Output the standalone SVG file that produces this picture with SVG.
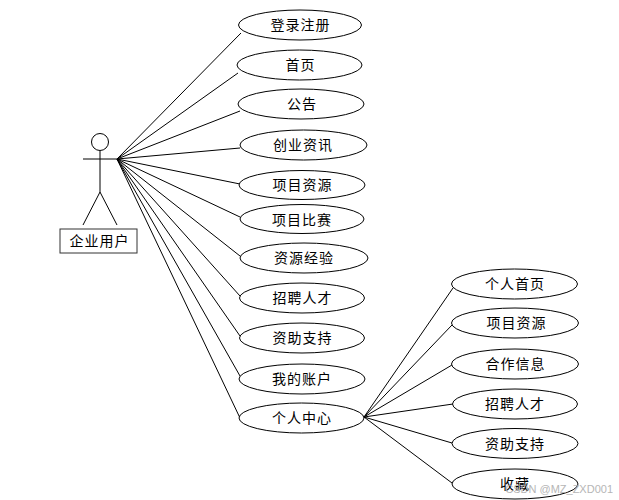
<svg xmlns="http://www.w3.org/2000/svg" width="619" height="500" viewBox="0 0 619 500">
<style>
.l{stroke:#000;stroke-width:1;fill:none}
.e{stroke:#000;stroke-width:1;fill:#fff}
.t{font-family:"Noto Sans CJK SC","Liberation Sans",sans-serif;font-size:14px;letter-spacing:1px;fill:#000;text-anchor:middle}
</style>
<rect width="619" height="500" fill="#fff"/>
<g id="connectors" class="l">
<path d="M117 159L241 33M117 159L238 73M117 159L240 111M117 159L240 148M117 159L240 184M117 159L240 217M117 159L240 256M117 159L240 296M117 159L240 336M117 159L240 376M117 159L240 418"/>
<path d="M364 417L453 288M364 417L452 325M364 417L452 365M364 417L453 404M364 417L452 443M364 417L452 483"/>
</g>
<g id="actor" class="l">
<circle cx="100" cy="142" r="8.5"/>
<path d="M83 159H117M100 151V192M100 192L83 225M100 192L117 225"/>
<rect x="60" y="229" width="77" height="24" fill="#fff" stroke="#333"/>
<text class="t" x="99.500" y="246" stroke="none">企业用户</text>
</g>
<g id="n1"><ellipse class="e" cx="300" cy="25" rx="61.500" ry="15"/><text class="t" x="300.500" y="30">登录注册</text></g>
<g id="n2"><ellipse class="e" cx="299.500" cy="65" rx="62.500" ry="15"/><text class="t" x="300.500" y="70">首页</text></g>
<g id="n3"><ellipse class="e" cx="301" cy="104" rx="63" ry="15"/><text class="t" x="302" y="109">公告</text></g>
<g id="n4"><ellipse class="e" cx="303.500" cy="145" rx="63.500" ry="15"/><text class="t" x="303" y="150">创业资讯</text></g>
<g id="n5"><ellipse class="e" cx="302" cy="185" rx="63" ry="14.500"/><text class="t" x="302.500" y="190">项目资源</text></g>
<g id="n6"><ellipse class="e" cx="302" cy="219" rx="62" ry="14.500"/><text class="t" x="302" y="225">项目比赛</text></g>
<g id="n7"><ellipse class="e" cx="304" cy="258" rx="64" ry="15"/><text class="t" x="304" y="263">资源经验</text></g>
<g id="n8"><ellipse class="e" cx="302" cy="298" rx="62.500" ry="15"/><text class="t" x="302.500" y="303">招聘人才</text></g>
<g id="n9"><ellipse class="e" cx="302" cy="338" rx="62.500" ry="15"/><text class="t" x="302.500" y="343">资助支持</text></g>
<g id="n10"><ellipse class="e" cx="302" cy="379" rx="63" ry="15"/><text class="t" x="302" y="384">我的账户</text></g>
<g id="n11"><ellipse class="e" cx="301.500" cy="418" rx="62.500" ry="15"/><text class="t" x="302" y="423">个人中心</text></g>
<g id="n12"><ellipse class="e" cx="514.500" cy="284" rx="63" ry="15"/><text class="t" x="515" y="289">个人首页</text></g>
<g id="n13"><ellipse class="e" cx="515" cy="323" rx="63.500" ry="15"/><text class="t" x="516.500" y="328">项目资源</text></g>
<g id="n14"><ellipse class="e" cx="515" cy="364" rx="63.500" ry="15"/><text class="t" x="515.500" y="368.500">合作信息</text></g>
<g id="n15"><ellipse class="e" cx="515" cy="404" rx="62.500" ry="15"/><text class="t" x="515" y="409">招聘人才</text></g>
<g id="n16"><ellipse class="e" cx="515" cy="443.500" rx="63" ry="15"/><text class="t" x="515" y="449">资助支持</text></g>
<g id="n17"><ellipse class="e" cx="515" cy="484" rx="63" ry="15"/><text class="t" x="515" y="489">收藏</text></g>
<text x="613" y="493" text-anchor="end" font-family="Liberation Sans, sans-serif" font-size="11px" fill="#aaa" opacity="0.85">CSDN @MZ_ZXD001</text>
</svg>
